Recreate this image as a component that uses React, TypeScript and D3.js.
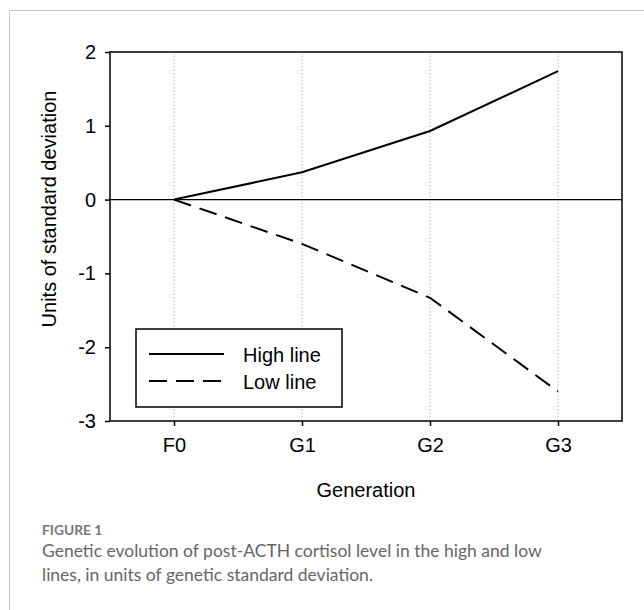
import React, { useEffect, useRef } from "react";
import * as d3 from "d3";

const generations = ["F0", "G1", "G2", "G3"];
const highLine = [0, 0.37, 0.93, 1.74];
const lowLine = [0, -0.6, -1.33, -2.6];
const yTicks = [2, 1, 0, -1, -2, -3];

const App = () => {
  const svgRef = useRef<SVGSVGElement>(null);

  useEffect(() => {
    const width = 644;
    const height = 610;
    const plot = { left: 110, right: 622, top: 52, bottom: 421 };
    const font = "'Liberation Sans', Arial, sans-serif";
    const fs = 20;

    const svg = d3.select(svgRef.current);
    svg.selectAll("*").remove();
    svg.attr("width", width).attr("height", height);

    // frame of the figure box
    svg
      .append("path")
      .attr("d", `M9.5,${height} V10.5 H${width}`)
      .attr("fill", "none")
      .attr("stroke", "#c8c8c8")
      .attr("stroke-width", 1);

    const x = d3
      .scalePoint<string>()
      .domain(generations)
      .range([plot.left, plot.right])
      .padding(0.5);

    const y = d3.scaleLinear().domain([-3, 2]).range([plot.bottom, plot.top]);

    // dotted guides
    svg
      .append("g")
      .selectAll("line")
      .data(generations)
      .join("line")
      .attr("x1", (d) => x(d)!)
      .attr("x2", (d) => x(d)!)
      .attr("y1", plot.top)
      .attr("y2", plot.bottom)
      .attr("stroke", "#bbb")
      .attr("stroke-width", 1)
      .attr("stroke-dasharray", "1.5,2");

    // zero line
    svg
      .append("line")
      .attr("x1", plot.left)
      .attr("x2", plot.right)
      .attr("y1", y(0))
      .attr("y2", y(0))
      .attr("stroke", "#000")
      .attr("stroke-width", 1.3);

    // frame
    svg
      .append("rect")
      .attr("x", plot.left)
      .attr("y", plot.top)
      .attr("width", plot.right - plot.left)
      .attr("height", plot.bottom - plot.top)
      .attr("fill", "none")
      .attr("stroke", "#000")
      .attr("stroke-width", 1.5);

    const yAxis = svg
      .append("g")
      .attr("transform", `translate(${plot.left},0)`)
      .call(d3.axisLeft(y).tickValues(yTicks).tickSize(5).tickPadding(9).tickFormat((d) => String(d)));
    yAxis.select(".domain").remove();
    yAxis.selectAll("line").attr("stroke-width", 1.5);
    yAxis.attr("font-family", font).attr("font-size", fs);
    yAxis.selectAll("text").attr("fill", "#000");

    const xAxis = svg
      .append("g")
      .attr("transform", `translate(0,${plot.bottom})`)
      .call(d3.axisBottom(x).tickSize(5).tickPadding(12));
    xAxis.select(".domain").remove();
    xAxis.selectAll("line").attr("stroke-width", 1.5);
    xAxis.attr("font-family", font).attr("font-size", fs);
    xAxis.selectAll("text").attr("fill", "#000");

    const line = d3
      .line<number>()
      .x((_, i) => x(generations[i])!)
      .y((d) => y(d));

    svg
      .append("path")
      .datum(highLine)
      .attr("d", line)
      .attr("fill", "none")
      .attr("stroke", "#000")
      .attr("stroke-width", 2);

    svg
      .append("path")
      .datum(lowLine)
      .attr("d", line)
      .attr("fill", "none")
      .attr("stroke", "#000")
      .attr("stroke-width", 2)
      .attr("stroke-dasharray", "18,9");

    // legend
    const legend = svg.append("g");
    legend
      .append("rect")
      .attr("x", 136)
      .attr("y", 329)
      .attr("width", 206)
      .attr("height", 78)
      .attr("fill", "#fff")
      .attr("stroke", "#000")
      .attr("stroke-width", 1.5);
    const items = [
      { label: "High line", dash: null, y: 354 },
      { label: "Low line", dash: "18,9", y: 381 },
    ];
    items.forEach((it) => {
      legend
        .append("line")
        .attr("x1", 149)
        .attr("x2", 224)
        .attr("y1", it.y)
        .attr("y2", it.y)
        .attr("stroke", "#000")
        .attr("stroke-width", 2)
        .attr("stroke-dasharray", it.dash);
      legend
        .append("text")
        .attr("x", 243)
        .attr("y", it.y + 8)
        .attr("font-family", font)
        .attr("font-size", fs)
        .text(it.label);
    });

    // axis titles
    svg
      .append("text")
      .attr("x", (plot.left + plot.right) / 2)
      .attr("y", 497)
      .attr("text-anchor", "middle")
      .attr("font-family", font)
      .attr("font-size", fs)
      .text("Generation");

    svg
      .append("text")
      .attr("transform", "translate(56,209) rotate(-90)")
      .attr("text-anchor", "middle")
      .attr("font-family", font)
      .attr("font-size", fs)
      .text("Units of standard deviation");

    // caption
    svg
      .append("text")
      .attr("x", 42)
      .attr("y", 535)
      .attr("font-family", "Lato, 'Open Sans', sans-serif")
      .attr("font-size", 13.8)
      .attr("font-weight", 700)
      .attr("fill", "#777")
      .text("FIGURE 1");
    const caption = [
      "Genetic evolution of post-ACTH cortisol level in the high and low",
      "lines, in units of genetic standard deviation.",
    ];
    caption.forEach((c, i) => {
      svg
        .append("text")
        .attr("x", 42)
        .attr("y", 557 + i * 24)
        .attr("font-family", "Lato, 'Open Sans', sans-serif")
        .attr("font-size", 17.5)
        .attr("fill", "#666")
        .text(c);
    });
  }, []);

  return <svg ref={svgRef} style={{ position: "absolute", left: 0, top: 0 }}></svg>;
};

export default App;
